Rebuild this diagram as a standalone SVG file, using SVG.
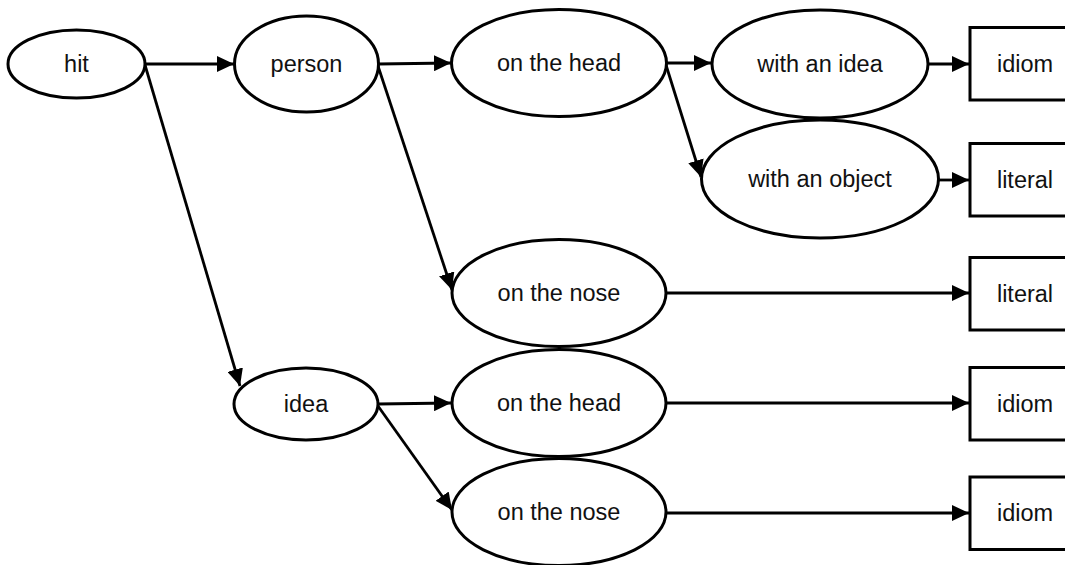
<svg xmlns="http://www.w3.org/2000/svg" width="1065" height="565" viewBox="0 0 1065 565">
  <style>
    .shape { fill: #ffffff; stroke: #000000; stroke-width: 3; }
    .label { font-family: "Liberation Sans", Arial, Helvetica, sans-serif; font-size: 23.5px; fill: #111111; text-anchor: middle; }
    .edge { fill: none; stroke: #000000; stroke-width: 2.8; marker-end: url(#arrow); }
  </style>
  <defs>
    <marker id="arrow" markerWidth="17" markerHeight="16" refX="17" refY="8" orient="auto" markerUnits="userSpaceOnUse">
      <path d="M0,0 L17,8 L0,16 Z" fill="#000000"/>
    </marker>
  </defs>
  <rect width="1065" height="565" fill="#ffffff"/>

  <g id="connectors">
    <line class="edge" x1="145" y1="64" x2="234" y2="64"/>
    <line class="edge" x1="145" y1="65" x2="240" y2="386"/>
    <line class="edge" x1="378" y1="64" x2="451" y2="63"/>
    <line class="edge" x1="378" y1="66" x2="452" y2="290"/>
    <line class="edge" x1="666" y1="63" x2="711" y2="63"/>
    <line class="edge" x1="666" y1="65" x2="701" y2="177"/>
    <line class="edge" x1="928" y1="64" x2="969" y2="64"/>
    <line class="edge" x1="939" y1="180" x2="969" y2="180"/>
    <line class="edge" x1="666" y1="293" x2="969" y2="293"/>
    <line class="edge" x1="378" y1="404" x2="451" y2="403"/>
    <line class="edge" x1="378" y1="406" x2="452" y2="510"/>
    <line class="edge" x1="666" y1="403" x2="969" y2="403"/>
    <line class="edge" x1="666" y1="513" x2="969" y2="513"/>
  </g>

  <g id="hit">
    <ellipse class="shape" cx="76.5" cy="64" rx="68.5" ry="34"/>
    <text class="label" x="76.5" y="72">hit</text>
  </g>
  <g id="person">
    <ellipse class="shape" cx="306.5" cy="64" rx="72" ry="48"/>
    <text class="label" x="306.5" y="72">person</text>
  </g>
  <g id="idea">
    <ellipse class="shape" cx="306" cy="404" rx="72" ry="36"/>
    <text class="label" x="306" y="412">idea</text>
  </g>
  <g id="person-head">
    <ellipse class="shape" cx="559" cy="63" rx="107.5" ry="53.5"/>
    <text class="label" x="559" y="71">on the head</text>
  </g>
  <g id="person-nose">
    <ellipse class="shape" cx="559" cy="293" rx="107" ry="53.5"/>
    <text class="label" x="559" y="301">on the nose</text>
  </g>
  <g id="idea-head">
    <ellipse class="shape" cx="559" cy="403" rx="107" ry="53.5"/>
    <text class="label" x="559" y="411">on the head</text>
  </g>
  <g id="idea-nose">
    <ellipse class="shape" cx="559" cy="512" rx="107" ry="53.5"/>
    <text class="label" x="559" y="520">on the nose</text>
  </g>
  <g id="with-idea">
    <ellipse class="shape" cx="820" cy="64" rx="108" ry="54"/>
    <text class="label" x="820" y="72">with an idea</text>
  </g>
  <g id="with-object">
    <ellipse class="shape" cx="820" cy="179" rx="118.5" ry="59"/>
    <text class="label" x="820" y="187">with an object</text>
  </g>
  <g id="result-1">
    <rect class="shape" x="970" y="27.5" width="112" height="72.5"/>
    <text class="label" x="1025" y="72">idiom</text>
  </g>
  <g id="result-2">
    <rect class="shape" x="970" y="143.5" width="112" height="72.5"/>
    <text class="label" x="1025" y="188">literal</text>
  </g>
  <g id="result-3">
    <rect class="shape" x="970" y="257.5" width="112" height="72.5"/>
    <text class="label" x="1025" y="302">literal</text>
  </g>
  <g id="result-4">
    <rect class="shape" x="970" y="367.5" width="112" height="72.5"/>
    <text class="label" x="1025" y="412">idiom</text>
  </g>
  <g id="result-5">
    <rect class="shape" x="970" y="477" width="112" height="72.5"/>
    <text class="label" x="1025" y="521">idiom</text>
  </g>
</svg>
